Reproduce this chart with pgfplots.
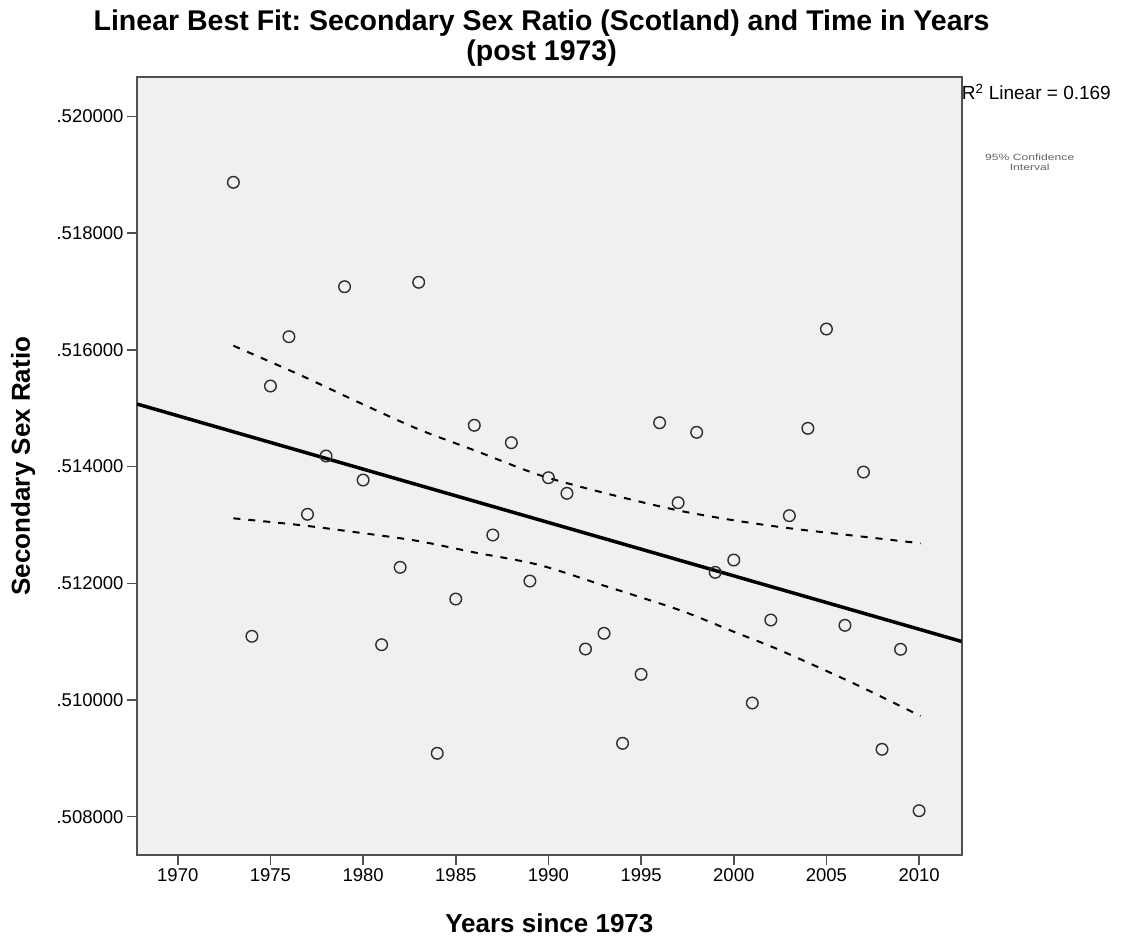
\documentclass[border=0pt]{standalone}
\usepackage{pgfplots}
\pgfplotsset{compat=1.18}
\usepackage{fontspec}
\setmainfont{Liberation Sans}
\frenchspacing
\definecolor{bg}{RGB}{240,240,240}
\definecolor{frame}{RGB}{80,80,80}
\definecolor{mk}{RGB}{45,45,45}
\definecolor{ci}{RGB}{100,100,100}
\begin{document}
\begin{tikzpicture}
\path[use as bounding box] (-137pt,-82pt) rectangle (989pt,855pt);
\begin{axis}[
  at={(0pt,0pt)}, anchor=south west,
  scale only axis, width=824.7pt, height=777.7pt,
  xmin=1967.8, xmax=2012.3, ymin=0.507344, ymax=0.520672,
  axis background/.style={fill=bg},
  axis line style={frame, line width=2pt},
  xtick={1970,1975,1980,1985,1990,1995,2000,2005,2010},
  xticklabels={1970,1975,1980,1985,1990,1995,2000,2005,2010},
  ytick={0.508,0.510,0.512,0.514,0.516,0.518,0.520},
  yticklabels={.508000,.510000,.512000,.514000,.516000,.518000,.520000},
  xtick pos=bottom, ytick pos=left,
  tick align=outside, major tick length=10pt,
  tick style={frame, line width=1.5pt},
  ticklabel style={font=\fontsize{18.5}{20}\selectfont, text=black},
  xlabel={Years since 1973},
  ylabel={Secondary Sex Ratio},
  xlabel style={at={(axis description cs:0.5,-0.0874)}, anchor=center, font=\bfseries\fontsize{26}{28}\selectfont},
  ylabel style={at={(axis description cs:-0.1379,0.5)}, anchor=center, font=\bfseries\fontsize{26}{28}\selectfont},
]
\addplot[black, line width=3.5pt] coordinates {(1967.8,0.515073) (2012.3,0.511003)};
\addplot[black, line width=2pt, dash pattern=on 7pt off 8pt, smooth] coordinates {
(1973,0.516072) (1976.6,0.51557) (1979.5,0.51514) (1982.87,0.514656) (1986,0.51428) (1989.51,0.513856) (1993,0.51355) (1996.9,0.513256) (2000,0.51308) (2003.02,0.512943) (2006.5,0.512816) (2010.08,0.512686)};
\addplot[black, line width=2pt, dash pattern=on 7pt off 8pt, smooth] coordinates {
(1973,0.513114) (1976.57,0.512999) (1979.5,0.51288) (1982.87,0.51273) (1986,0.51253) (1989.51,0.512314) (1993,0.51196) (1997.07,0.511542) (2000,0.51117) (2002.47,0.510857) (2006.5,0.51028) (2010.08,0.509726)};
\addplot[only marks, mark=o, mark size=5.8pt, mark options={mk, line width=1.4pt}] coordinates {
(1973,0.518872) (1974,0.511092) (1975,0.515381) (1976,0.516226) (1977,0.513183)
(1978,0.514182) (1979,0.517083) (1980,0.513770) (1981,0.510948) (1982,0.512274)
(1983,0.517159) (1984,0.509087) (1985,0.511731) (1986,0.514708) (1987,0.512828)
(1988,0.514410) (1989,0.512039) (1990,0.513810) (1991,0.513542) (1992,0.510874)
(1993,0.511143) (1994,0.509258) (1995,0.510440) (1996,0.514752) (1997,0.513381)
(1998,0.514588) (1999,0.512188) (2000,0.512399) (2001,0.509949) (2002,0.511371)
(2003,0.513159) (2004,0.514656) (2005,0.516358) (2006,0.511280) (2007,0.513907)
(2008,0.509155) (2009,0.510869) (2010,0.508103)};
\end{axis}
\node[anchor=base, font=\bfseries\fontsize{28.5}{31}\selectfont, inner sep=0pt] at (404.6pt,824pt) {Linear Best Fit: Secondary Sex Ratio (Scotland) and Time in Years};
\node[anchor=base, font=\bfseries\fontsize{28.5}{31}\selectfont, inner sep=0pt] at (404.6pt,794pt) {(post 1973)};
\node[anchor=base west, font=\fontsize{19}{21}\selectfont, inner sep=0pt] at (824.7pt,755pt) {R\textsuperscript{2} Linear = 0.169};
\node[anchor=base, font=\fontsize{9}{10}\selectfont, text=ci, inner sep=0pt, xscale=1.35] at (892.7pt,694pt) {95\% Confidence};
\node[anchor=base, font=\fontsize{9}{10}\selectfont, text=ci, inner sep=0pt, xscale=1.35] at (892.7pt,684pt) {Interval};
\end{tikzpicture}
\end{document}
